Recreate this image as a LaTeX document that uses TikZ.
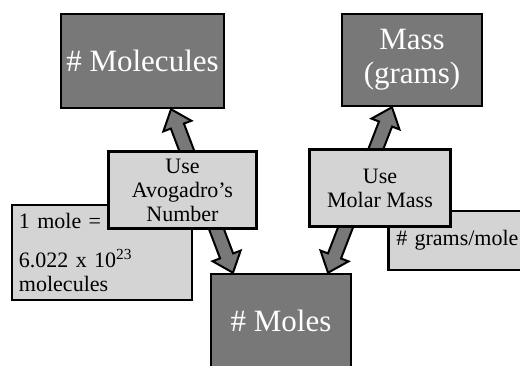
\documentclass[tikz,border=0pt]{standalone}
\usepackage{fontspec}
\setmainfont{Liberation Serif}
\usetikzlibrary{calc}

\definecolor{boxdark}{gray}{0.47}
\definecolor{boxlight}{gray}{0.83}
\newcommand{\bigfont}{\fontsize{31}{34}\selectfont}
\newcommand{\smallfont}{\fontsize{22}{24}\selectfont}

% fat two-headed arrow between two tips
\newcommand{\bigarrow}[2]{%
  \draw[blockarrow] (#1)
    -- ($(#1)!18pt!(#2)!15pt!90:(#2)$)
    -- ($(#1)!18pt!(#2)!7pt!90:(#2)$)
    -- ($(#2)!18pt!(#1)!7pt!-90:(#1)$)
    -- ($(#2)!18pt!(#1)!15pt!-90:(#1)$)
    -- (#2)
    -- ($(#2)!18pt!(#1)!15pt!90:(#1)$)
    -- ($(#2)!18pt!(#1)!7pt!90:(#1)$)
    -- ($(#1)!18pt!(#2)!7pt!-90:(#2)$)
    -- ($(#1)!18pt!(#2)!15pt!-90:(#2)$)
    -- cycle;}

\begin{document}
\begin{tikzpicture}[x=1pt, y=-1pt,
    darkbox/.style={draw, line width=2.5pt, fill=boxdark, text=white, font=\bigfont, align=center, inner sep=2pt},
    lightbox/.style={draw, line width=2.5pt, fill=boxlight, font=\smallfont, align=center, inner sep=1pt},
    blockarrow/.style={draw, line width=2pt, fill=boxdark, line join=miter}]
    \useasboundingbox (0,0) rectangle (520,366);
    \clip (0,0) rectangle (520,366);

    \node[darkbox, minimum width=163pt, minimum height=94pt] (molec) at (142.5,61) {\# Molecules};
    \node[darkbox, minimum width=140pt, minimum height=92pt] (mass) at (412,60) {Mass\\(grams)};
    \node[darkbox, minimum width=140pt, minimum height=94pt] (moles) at (281,321) {\# Moles};

    \coordinate (avoTop) at ([xshift=28.5pt]molec.south);
    \coordinate (avoBot) at ([xshift=-48pt]moles.north);
    \coordinate (molTop) at ([xshift=-20pt]mass.south);
    \coordinate (molBot) at ([xshift=47pt]moles.north);
    \bigarrow{avoTop}{avoBot}
    \bigarrow{molTop}{molBot}

    \node[lightbox, minimum width=180pt, minimum height=95pt, text width=166pt, align=left, inner xsep=7pt] (oneMole) at (102,252.5)
        {1 mole =\\[15pt]6.022 x 10\textsuperscript{23}\\molecules};
    \node[lightbox, anchor=west, minimum height=59pt, text width=160pt, align=left, inner xsep=8pt] (gramsMole) at (387,240.5)
        {\# grams/mole};

    \node[lightbox, minimum width=148pt, minimum height=77pt] (avogadro) at (182.5,190) {Use\\Avogadro’s\\Number};
    \node[lightbox, minimum width=141pt, minimum height=77pt] (molarMass) at (380,188) {Use\\Molar Mass};
\end{tikzpicture}
\end{document}
